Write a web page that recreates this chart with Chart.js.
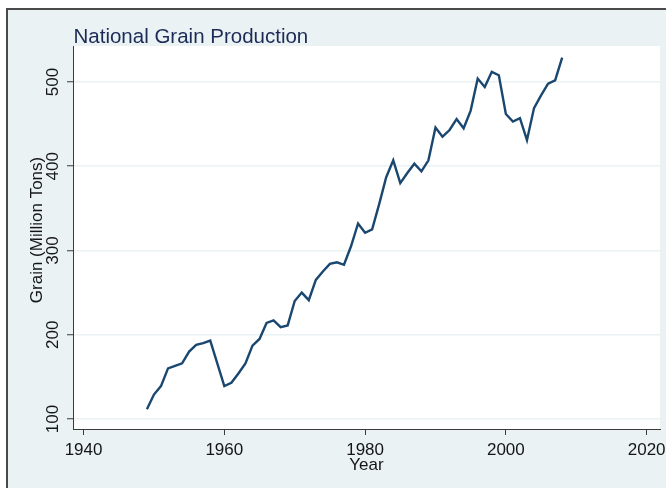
<!DOCTYPE html>
<html>
<head>
<meta charset="utf-8">
<script src="https://cdn.jsdelivr.net/npm/chart.js@4/dist/chart.umd.min.js"></script>
<style>
  html, body { margin: 0; padding: 0; background: #ffffff; }
  canvas { display: block; }
</style>
</head>
<body>
<canvas id="c" width="666" height="488"></canvas>
<script>
// ---- Data ----
const years = [
  1949, 1950, 1951, 1952, 1953, 1954, 1955, 1956, 1957, 1958,
  1959, 1960, 1961, 1962, 1963, 1964, 1965, 1966, 1967, 1968,
  1969, 1970, 1971, 1972, 1973, 1974, 1975, 1976, 1977, 1978,
  1979, 1980, 1981, 1982, 1983, 1984, 1985, 1986, 1987, 1988,
  1989, 1990, 1991, 1992, 1993, 1994, 1995, 1996, 1997, 1998,
  1999, 2000, 2001, 2002, 2003, 2004, 2005, 2006, 2007, 2008
];
const grain = [
  111.5, 129, 139, 160, 163, 166, 180, 188, 190, 193,
  166, 139, 143, 154, 166, 187, 195, 214, 217, 209,
  211, 240, 250, 241, 265, 275, 284, 286, 283, 305,
  332, 321, 325, 355, 387, 407, 380, 392, 403, 394,
  407, 446, 435, 443, 456, 445, 466, 504, 494, 512,
  508, 462, 453, 457, 431, 469, 484, 498, 502, 529
];
const xTicks = [1940, 1960, 1980, 2000, 2020];
const yTicks = [100, 200, 300, 400, 500];

const titleText = 'National Grain Production';
const xTitle = 'Year';
const yTitle = 'Grain (Million Tons)';

// ---- Styling ----
const FONT = '"Liberation Sans", Arial, Helvetica, sans-serif';
const BG = '#eaf2f3';
const LINE = '#1a476f';
const AXIS = '#3a3a3a';
const TEXT = '#151515';

const points = years.map((y, i) => ({ x: y, y: grain[i] }));

const framePlugin = {
  id: 'frame',
  beforeDraw(chart) {
    const ctx = chart.ctx;
    const W = chart.width, H = chart.height;
    const a = chart.chartArea;
    ctx.save();
    ctx.fillStyle = '#ffffff';
    ctx.fillRect(0, 0, W, H);
    ctx.fillStyle = BG;
    ctx.fillRect(7, 9, W - 7, H - 9);
    ctx.strokeStyle = '#4a4a4a';
    ctx.lineWidth = 2;
    ctx.beginPath();
    ctx.moveTo(7, H);
    ctx.lineTo(7, 9);
    ctx.lineTo(W, 9);
    ctx.stroke();
    ctx.fillStyle = '#ffffff';
    ctx.fillRect(a.left, a.top, a.right - a.left, a.bottom - a.top);
    ctx.restore();
  },
  afterDraw(chart) {
    const ctx = chart.ctx;
    ctx.save();
    ctx.fillStyle = '#1c2a57';
    ctx.font = '20.5px ' + FONT;
    ctx.textAlign = 'left';
    ctx.textBaseline = 'alphabetic';
    ctx.fillText(titleText, 73.5, 42.5);
    ctx.fillStyle = TEXT;
    ctx.font = '17px ' + FONT;
    ctx.translate(42.3, 230);
    ctx.rotate(-Math.PI / 2);
    ctx.textAlign = 'center';
    ctx.fillText(yTitle, 0, 0);
    ctx.restore();
  }
};

new Chart(document.getElementById('c'), {
  type: 'line',
  data: {
    datasets: [{
      data: points,
      borderColor: LINE,
      borderWidth: 2.4,
      pointRadius: 0,
      pointHoverRadius: 0,
      tension: 0,
      fill: false
    }]
  },
  options: {
    responsive: false,
    devicePixelRatio: 1,
    animation: false,
    events: [],
    layout: { autoPadding: false, padding: { left: 0, right: 6, top: 46, bottom: 0 } },
    plugins: {
      legend: { display: false },
      title: { display: false },
      tooltip: { enabled: false }
    },
    scales: {
      x: {
        type: 'linear',
        min: 1938.5,
        max: 2021.9,
        afterBuildTicks: (s) => { s.ticks = xTicks.map(v => ({ value: v })); },
        afterFit: (s) => { s.height = 59; s.paddingLeft = 0; s.paddingRight = 0; },
        border: { display: true, color: AXIS, width: 1 },
        grid: {
          display: true,
          drawOnChartArea: false,
          drawTicks: true,
          tickLength: 6,
          tickColor: AXIS,
          tickWidth: 1
        },
        ticks: {
          color: TEXT,
          font: { family: FONT, size: 17 },
          padding: 5,
          maxRotation: 0,
          minRotation: 0,
          autoSkip: false,
          callback: (v) => String(v)
        },
        title: {
          display: true,
          text: xTitle,
          color: TEXT,
          font: { family: FONT, size: 17 },
          padding: { top: 0, bottom: 12 }
        }
      },
      y: {
        type: 'linear',
        min: 88.1,
        max: 542.7,
        afterBuildTicks: (s) => { s.ticks = yTicks.map(v => ({ value: v })); },
        afterFit: (s) => { s.width = 73; s.paddingTop = 0; s.paddingBottom = 0; },
        border: { display: true, color: AXIS, width: 1 },
        grid: {
          display: true,
          drawOnChartArea: true,
          color: BG,
          lineWidth: 1.5,
          drawTicks: true,
          tickLength: 6,
          tickColor: AXIS,
          tickWidth: 1
        },
        ticks: {
          color: TEXT,
          font: { family: FONT, size: 17 },
          padding: 0,
          minRotation: 90,
          maxRotation: 90,
          crossAlign: 'center',
          autoSkip: false,
          callback: (v) => String(v)
        },
        title: { display: false }
      }
    }
  },
  plugins: [framePlugin]
});
</script>
</body>
</html>
